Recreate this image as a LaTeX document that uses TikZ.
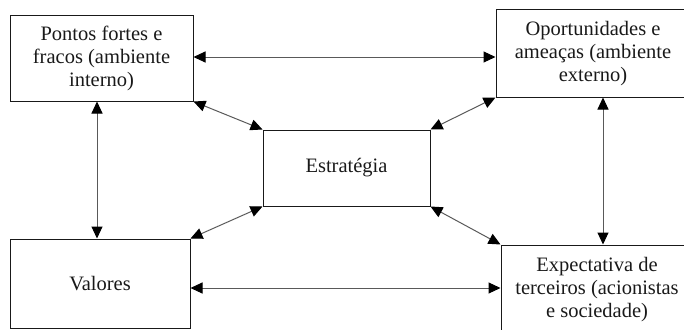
\documentclass[tikz,border=0pt]{standalone}
\usepackage{fontspec}
\setmainfont{Liberation Serif}
\usetikzlibrary{arrows.meta}
\begin{document}
\begin{tikzpicture}[x=1pt,y=-1pt,
  box/.style={draw=black!90,line width=1pt,rectangle,inner sep=0pt,align=center,
    text=black!90,font=\fontsize{20.5}{23}\selectfont},
  tip/.style={Triangle[length=12pt,width=12pt,fill=black,color=black]},
  arr/.style={draw=black!65,line width=1pt,{Triangle[length=12pt,width=11pt,fill=black,color=black]}-{Triangle[length=12pt,width=11pt,fill=black,color=black]}}]
\useasboundingbox (0,0) rectangle (684,329);
\clip (0,0) rectangle (684,329);
\node[box,minimum width=183pt,minimum height=85pt] (b1) at (101.5,58.5) {Pontos fortes e\\fracos (ambiente\\interno)};
\node[box,minimum width=194pt,minimum height=87pt] (b2) at (593,53.5) {Oportunidades e\\ameaças (ambiente\\externo)};
\node[box,minimum width=167pt,minimum height=76pt] (b3) at (346.5,168) {Estratégia};
\node[box,minimum width=180pt,minimum height=89pt] (b4) at (100,283.5) {Valores};
\node[box,minimum width=192pt,minimum height=90pt] (b5) at (597,290) {Expectativa de\\terceiros (acionistas\\e sociedade)};
\draw[arr] ([yshift=1.5pt]b1.east) -- ([yshift=1.5pt]b1.east -| b2.west);
\draw[arr] ([yshift=-4.5pt]b4.east) -- ([yshift=-4.5pt]b4.east -| b5.west);
\draw[arr] ([xshift=-4.5pt]b1.south) -- ([xshift=-4.5pt]b1.south |- b4.north);
\draw[arr] ([xshift=10pt]b2.south) -- ([xshift=10pt]b2.south |- b5.north);
\draw[arr] (b1.south east) -- (b3.north west);
\draw[arr] (b2.south west) -- (b3.north east);
\draw[arr] (b4.north east) -- (b3.south west);
\draw[arr] (b5.north west) -- (b3.south east);
\end{tikzpicture}
\end{document}
